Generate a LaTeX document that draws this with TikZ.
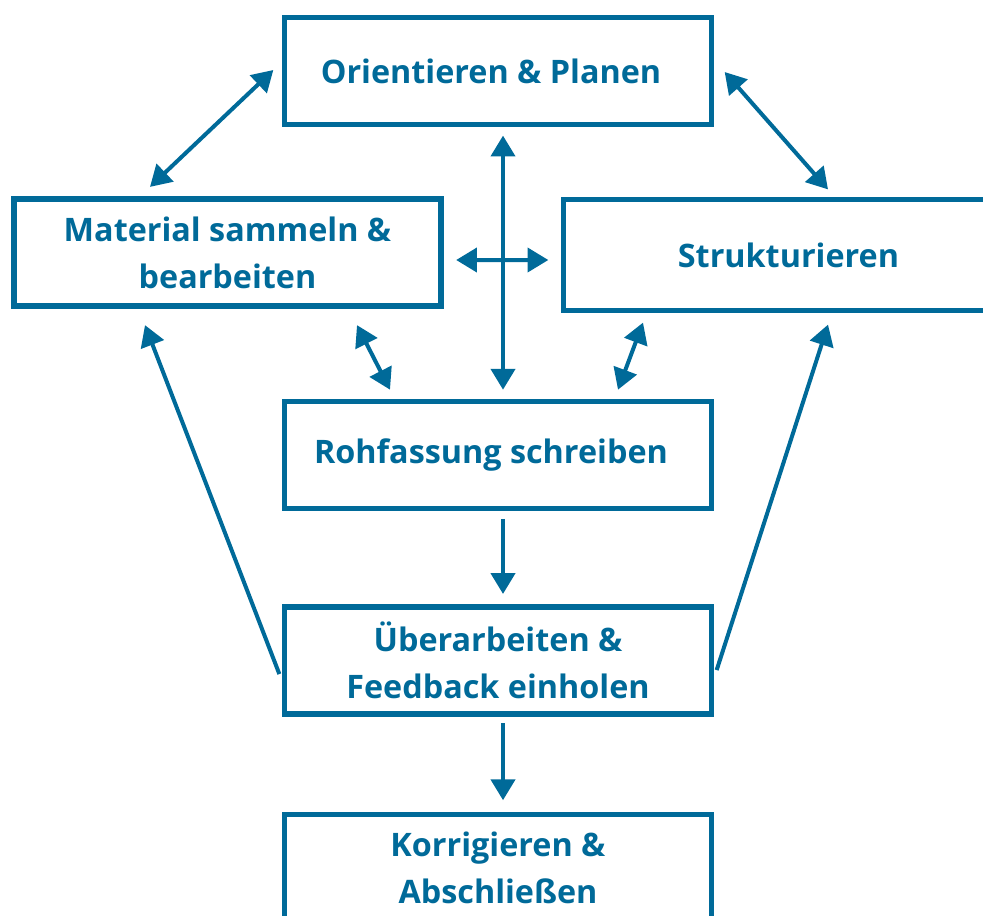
\documentclass[tikz,border=0pt]{standalone}
\usepackage{fontspec}
\setmainfont{Open Sans}
\usetikzlibrary{positioning, arrows.meta}
\definecolor{flowblue}{RGB}{0,106,153}

\begin{document}
\begin{tikzpicture}[x=0.025cm, y=-0.025cm, >={Triangle[length=0.52cm, width=0.6cm]},
    stage/.style={draw=flowblue, line width=0.13cm, text=flowblue, align=center, inner sep=0pt,
        font=\bfseries\fontsize{23}{33.5}\selectfont, minimum width=10.675cm, minimum height=2.675cm},
    link/.style={flowblue, line width=0.1cm}]
    \useasboundingbox (0,0) rectangle (983,915);

    \node[stage] (orient) at (498,71) {Orientieren \& Planen\hspace*{0.35cm}};
    \node[stage] (mat) at (227.5,252.5) {Material sammeln \&\\bearbeiten};
    \node[stage, minimum width=11.25cm, minimum height=2.775cm] (struk) at (788.5,255) {Strukturieren};
    \node[stage] (roh) [below=6.8cm of orient] {Rohfassung schreiben\hspace*{0.35cm}};
    \node[stage] (ueber) [below=2.325cm of roh] {Überarbeiten \&\\Feedback einholen};
    \node[stage] (korr) [below=2.375cm of ueber] {Korrigieren \&\\Abschließen};

    \draw[link, <->] ([shift={(-8.5,-1)}]orient.west) -- ([shift={(-77.5,-9.5)}]mat.north);
    \draw[link, <->] ([shift={(10.5,1)}]orient.east) -- ([shift={(39.5,-7.5)}]struk.north);
    \draw[link, <->] ([shift={(5,8.5)}]orient.south) -- ([shift={(5,-9.5)}]roh.north);
    \draw[link, <->] ([shift={(12.5,7.5)}]mat.east) -- ([shift={(-12.5,5)}]struk.west);
    \draw[link, <->] ([shift={(129.5,16.5)}]mat.south) -- ([shift={(-108,-9.5)}]roh.north);
    \draw[link, <->] ([shift={(-145.5,9.5)}]struk.south) -- ([shift={(120,-9.5)}]roh.north);
    \draw[link, ->] ([shift={(5,7.5)}]roh.south) -- ([shift={(5,-10.5)}]ueber.north);
    \draw[link, ->] ([shift={(5,6.5)}]ueber.south) -- ([shift={(5,-11.5)}]korr.north);
    \draw[link, ->] ([shift={(-2.5,13.5)}]ueber.west) -- ([shift={(-82.5,16.5)}]mat.south);
    \draw[link, ->] ([shift={(2.5,9.5)}]ueber.east) -- ([shift={(39.5,11.5)}]struk.south);
\end{tikzpicture}
\end{document}
